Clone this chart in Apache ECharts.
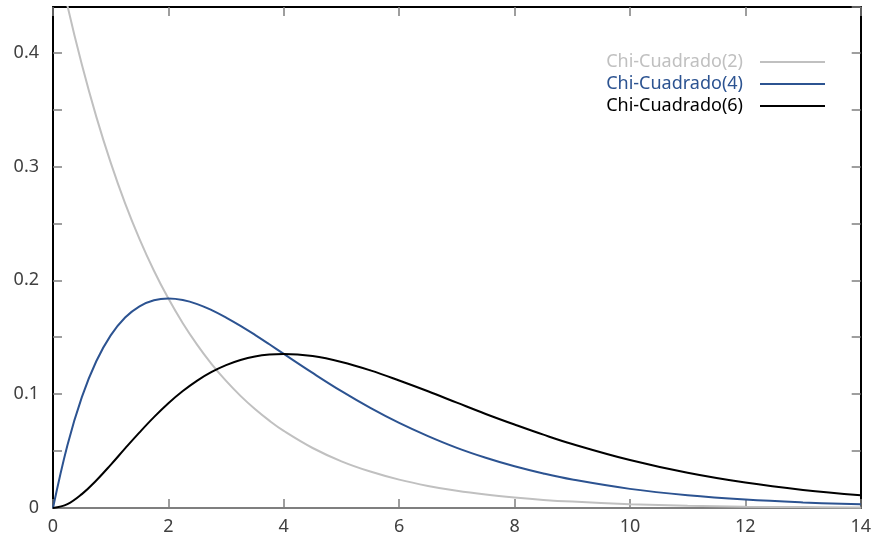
<!DOCTYPE html>
<html>
<head>
<meta charset="utf-8">
<script src="https://cdn.jsdelivr.net/npm/echarts@6/dist/echarts.min.js"></script>
<style>
  html, body { margin: 0; padding: 0; background: #fff; }
  #chart { width: 874px; height: 544px; }
</style>
</head>
<body>
<div id="chart"></div>
<script>
// x positions and density values
var xs = [0, 0.25, 0.5, 0.75, 1, 1.25, 1.5, 1.75, 2, 2.25, 2.5, 2.75, 3, 3.25, 3.5, 3.75, 4,
  4.5, 5, 5.5, 6, 6.5, 7, 7.5, 8, 8.5, 9, 10, 11, 12, 13, 14];
var chi2 = [0.5, 0.4412, 0.3894, 0.3437, 0.3033, 0.2676, 0.2362, 0.2084, 0.1839, 0.1623, 0.1433,
  0.1264, 0.1116, 0.0985, 0.0869, 0.0767, 0.0677, 0.0527, 0.0410, 0.0320, 0.0249, 0.0194,
  0.0151, 0.0118, 0.0092, 0.0071, 0.0056, 0.0034, 0.0020, 0.0012, 0.0008, 0.0005];
var chi4 = [0, 0.0552, 0.0974, 0.1289, 0.1516, 0.1673, 0.1771, 0.1824, 0.1839, 0.1826, 0.1791,
  0.1738, 0.1673, 0.1600, 0.1521, 0.1438, 0.1353, 0.1186, 0.1026, 0.0879, 0.0747, 0.0631,
  0.0528, 0.0441, 0.0366, 0.0303, 0.0250, 0.0168, 0.0112, 0.0074, 0.0049, 0.0032];
var chi6 = [0, 0.0034, 0.0122, 0.0242, 0.0379, 0.0523, 0.0664, 0.0798, 0.0920, 0.1027, 0.1119,
  0.1195, 0.1255, 0.1300, 0.1331, 0.1348, 0.1353, 0.1334, 0.1283, 0.1209, 0.1120, 0.1025,
  0.0925, 0.0826, 0.0733, 0.0644, 0.0562, 0.0421, 0.0309, 0.0223, 0.0159, 0.0112];

var names = ['Chi-Cuadrado(2)', 'Chi-Cuadrado(4)', 'Chi-Cuadrado(6)'];
var colors = ['#c0c0c0', '#2c5391', '#000000'];

var font = '"Noto Sans", sans-serif';
var tickColor = '#7f7f7f';

function pairs(ys) {
  return xs.map(function (x, i) { return [x, ys[i]]; });
}

function yLabel(v) {
  var t = v * 10;
  if (Math.abs(t - Math.round(t)) > 1e-6) return '';
  return String(Math.round(t) / 10);
}

var chart = echarts.init(document.getElementById('chart'));

var series = [chi2, chi4, chi6].map(function (ys, i) {
  return {
    name: names[i],
    type: 'line',
    xAxisIndex: 0,
    yAxisIndex: 0,
    data: pairs(ys),
    symbol: 'none',
    smooth: 0.4,
    clip: true,
    lineStyle: { color: colors[i], width: 2 },
    itemStyle: { color: colors[i] },
    z: 3 + i
  };
});

function frameAxis(pos, min, max, interval, lineColor, lineWidth) {
  return {
    type: 'value',
    position: pos,
    min: min, max: max, interval: interval,
    axisLine: { show: true, onZero: false, lineStyle: { color: lineColor, width: lineWidth } },
    axisTick: { show: true, inside: true, length: 9, lineStyle: { color: tickColor, width: 1.5 } },
    axisLabel: { show: false },
    splitLine: { show: false }
  };
}

var xBottom = frameAxis('bottom', 0, 14, 2, tickColor, 2);
xBottom.axisLabel = { show: true, color: '#404040', fontFamily: font, fontSize: 18, margin: 10 };
var xTop = frameAxis('top', 0, 14, 2, '#000', 2);
var yLeft = frameAxis('left', 0, 0.44, 0.05, '#000', 2);
yLeft.axisLabel = { show: true, color: '#404040', fontFamily: font, fontSize: 18, margin: 14,
  formatter: yLabel, showMaxLabel: false };
var yRight = frameAxis('right', 0, 0.44, 0.05, '#000', 2);

chart.setOption({
  animation: false,
  grid: { left: 53, right: 11, top: 7, bottom: 36 },
  legend: {
    orient: 'vertical',
    align: 'right',
    right: 44,
    top: 46,
    icon: 'rect',
    itemWidth: 65,
    itemHeight: 2,
    itemGap: 0,
    textStyle: { fontFamily: font, fontSize: 18, lineHeight: 22, padding: [0, 12, 0, 0] },
    data: names.map(function (n, i) {
      return { name: n, textStyle: { color: colors[i] } };
    })
  },
  xAxis: [xBottom, xTop],
  yAxis: [yLeft, yRight],
  series: series
});
</script>
</body>
</html>
